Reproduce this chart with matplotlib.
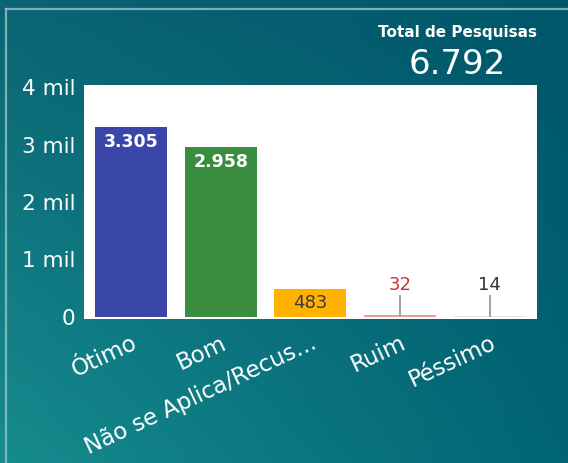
import numpy as np
import matplotlib
matplotlib.use("Agg")
import matplotlib.pyplot as plt
from matplotlib.colors import to_rgb
from matplotlib.lines import Line2D

plt.rcParams['font.family'] = ['DejaVu Sans']

categories = ["Ótimo", "Bom", "Não se Aplica/Recus...", "Ruim", "Péssimo"]
values = [3305, 2958, 483, 32, 14]
value_labels = ["3.305", "2.958", "483", "32", "14"]
bar_colors = ["#3b47a8", "#3a8c3e", "#ffb300", "#ef9a9a", "#e3e3ec"]
yticks = [0, 1000, 2000, 3000, 4000]
ytick_labels = ["0", "1 mil", "2 mil", "3 mil", "4 mil"]
total_title = "Total de Pesquisas"
total_value = "6.792"

W, H = 568, 463
fig = plt.figure(figsize=(W / 100, H / 100), dpi=100)

# gradient background
bg = fig.add_axes([0, 0, 1, 1])
bg.set_axis_off()
tl = np.array(to_rgb("#0a6473"))
tr = np.array(to_rgb("#00566a"))
bl = np.array(to_rgb("#168c8e"))
br = np.array(to_rgb("#016574"))
yy, xx = np.mgrid[0:1:200j, 0:1:200j]
img = (tl[None, None] * ((1 - xx) * (1 - yy))[..., None] + tr[None, None] * (xx * (1 - yy))[..., None]
       + bl[None, None] * ((1 - xx) * yy)[..., None] + br[None, None] * (xx * yy)[..., None])
bg.imshow(img, extent=[0, 1, 0, 1], aspect='auto', origin='upper')
bg.set_xlim(0, 1)
bg.set_ylim(0, 1)
# border frame
bg.add_line(Line2D([6 / W, 6 / W], [0, 1 - 9 / H], color="#9cc3c8", lw=1.6, alpha=0.8))
bg.add_line(Line2D([6 / W, 1], [1 - 9 / H, 1 - 9 / H], color="#9cc3c8", lw=1.6, alpha=0.8))

ax = fig.add_axes([84 / W, 1 - 319 / H, (537 - 84) / W, (319 - 85) / H])
ax.set_facecolor("white")
x = np.arange(len(categories))
bars = ax.bar(x, values, width=0.8, color=bar_colors)
ax.set_xlim(-0.525, 4.53)
ax.set_ylim(-35, 4035)
for s in ax.spines.values():
    s.set_visible(False)
ax.set_yticks(yticks)
ax.set_yticklabels(ytick_labels, color="white", fontsize=15.5)
ax.set_xticks(x)
ax.set_xticklabels(categories, color="white", fontsize=16.5, rotation=25,
                   ha="right", va="top", rotation_mode="anchor")
ax.tick_params(axis='both', length=0)
ax.tick_params(axis='y', pad=6)
ax.tick_params(axis='x', pad=9)

# value labels
ax.text(x[0], values[0] - 110, value_labels[0], ha="center", va="top",
        color="white", fontsize=12.5, fontweight="bold")
ax.text(x[1], values[1] - 110, value_labels[1], ha="center", va="top",
        color="white", fontsize=12.5, fontweight="bold")
ax.text(x[2], values[2] / 2, value_labels[2], ha="center", va="center",
        color="#3a3a3a", fontsize=13)
small_colors = ["#d32f2f", "#333333"]
for i, c in zip([3, 4], small_colors):
    ax.plot([x[i], x[i]], [values[i], 365], color="#999999", lw=1.3)
    ax.text(x[i], 475, value_labels[i], ha="center", va="baseline", color=c, fontsize=13)

fig.text(458 / W, 1 - 33 / H, total_title, ha="center", va="center",
         color="white", fontsize=11, fontweight="bold")
fig.text(457 / W, 1 - 64 / H, total_value, ha="center", va="center",
         color="white", fontsize=24.5)

fig.savefig("out.png", dpi=100)
